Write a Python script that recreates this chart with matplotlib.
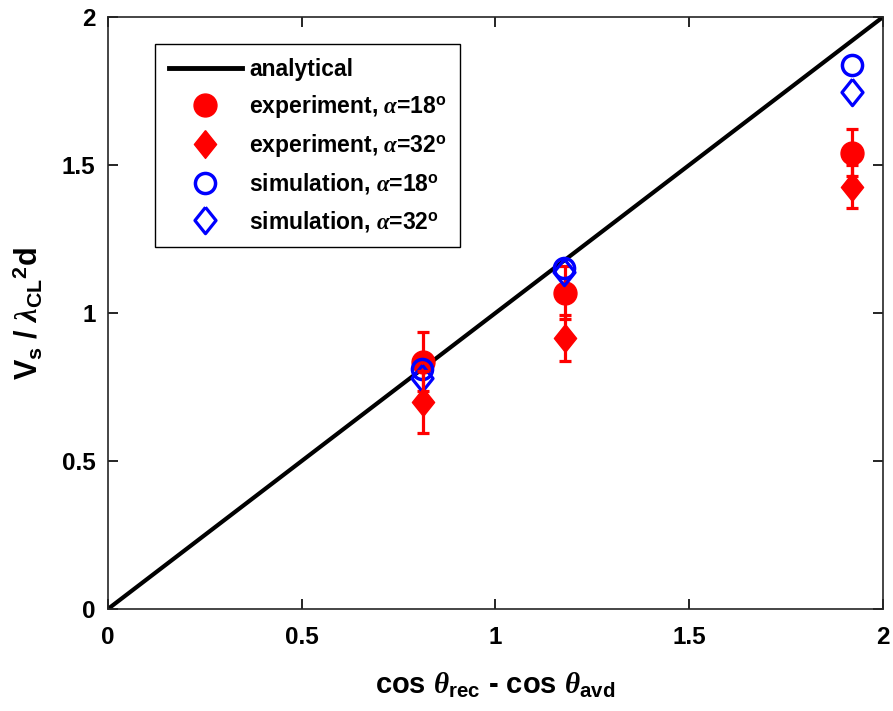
import numpy as np
import matplotlib.pyplot as plt
from matplotlib.lines import Line2D

plt.rcParams["font.family"] = ["Liberation Sans", "DejaVu Sans"]
plt.rcParams["font.weight"] = "bold"
plt.rcParams["axes.labelweight"] = "bold"
plt.rcParams["mathtext.fontset"] = "custom"
plt.rcParams["mathtext.rm"] = "Liberation Sans:bold"
plt.rcParams["mathtext.bf"] = "Liberation Sans:bold"
plt.rcParams["mathtext.it"] = "Liberation Serif:italic"

# analytical line
line_x = [0, 2]
line_y = [0, 2]

# experiment
exp_x = [0.813, 1.18, 1.92]
exp18_y = [0.835, 1.068, 1.542]
exp18_err = [0.10, 0.09, 0.08]
exp32_y = [0.70, 0.915, 1.427]
exp32_err = [0.105, 0.077, 0.072]

# simulation
sim_x = [0.81, 1.177, 1.92]
sim18_y = [0.81, 1.152, 1.838]
sim32_y = [0.78, 1.14, 1.747]

xticks = [0, 0.5, 1, 1.5, 2]
yticks = [0, 0.5, 1, 1.5, 2]
tick_labels = ["0", "0.5", "1", "1.5", "2"]

labels = [
    "analytical",
    r"experiment, $\alpha$=18$^{\mathrm{o}}$",
    r"experiment, $\alpha$=32$^{\mathrm{o}}$",
    r"simulation, $\alpha$=18$^{\mathrm{o}}$",
    r"simulation, $\alpha$=32$^{\mathrm{o}}$",
]

# diamond a bit taller than wide, like the MATLAB one
diamond = [(0, 1), (0.8, 0), (0, -1), (-0.8, 0), (0, 1)]

fig = plt.figure(figsize=(8.93, 7.11), dpi=100)
ax = fig.add_axes([0.1209, 0.1435, 0.8679, 0.8326])

ax.plot(line_x, line_y, color="black", lw=3.0, zorder=2)

ax.errorbar(exp_x, exp18_y, yerr=exp18_err, fmt="o", color="red", ms=16.5,
            elinewidth=2.3, capsize=4, capthick=2.3, zorder=3)
ax.plot(sim_x, sim18_y, "o", mfc="none", mec="blue", mew=2.5, ms=14.5, zorder=4)
ax.plot(sim_x, sim32_y, marker=diamond, ls="none", mfc="none", mec="blue",
        mew=2.3, ms=19, zorder=4)
ax.errorbar(exp_x, exp32_y, yerr=exp32_err, fmt="none", ecolor="red",
            elinewidth=2.3, capsize=4, capthick=2.3, zorder=5)
ax.plot(exp_x, exp32_y, marker=diamond, ls="none", color="red", ms=20, zorder=5)

ax.set_xlim(0, 2)
ax.set_ylim(0, 2)
ax.set_xticks(xticks)
ax.set_xticklabels(tick_labels)
ax.set_yticks(yticks)
ax.set_yticklabels(tick_labels)
ax.tick_params(direction="in", top=True, right=True, labelsize=17.5, length=7, width=1.2)
ax.tick_params(axis="x", pad=12)
ax.tick_params(axis="y", pad=9)
for s in ax.spines.values():
    s.set_linewidth(1.2)
    s.set_color("#262626")

ax.set_xlabel(r"cos $\theta$$_{\mathrm{rec}}$ - cos $\theta$$_{\mathrm{avd}}$", fontsize=21, labelpad=16)
ax.set_ylabel(r"V$_{\mathrm{s}}$ / $\lambda$$_{\mathrm{CL}}$$^{\mathrm{2}}$d", fontsize=22, labelpad=12)

handles = [
    Line2D([], [], color="black", lw=3.5),
    Line2D([], [], marker="o", ls="none", color="red", ms=16.5),
    Line2D([], [], marker=diamond, ls="none", color="red", ms=20),
    Line2D([], [], marker="o", ls="none", mfc="none", mec="blue", mew=2.5, ms=14.5),
    Line2D([], [], marker=diamond, ls="none", mfc="none", mec="blue", mew=2.3, ms=19),
]
leg = ax.legend(handles, labels, loc="upper left", bbox_to_anchor=(0.0606, 0.954),
                borderaxespad=0, fontsize=16.5, fancybox=False, edgecolor="black",
                framealpha=1, handlelength=3.2, handletextpad=0.3,
                labelspacing=0.53, borderpad=0.6)
leg.get_frame().set_linewidth(1.0)

fig.savefig("out.png", dpi=100)
